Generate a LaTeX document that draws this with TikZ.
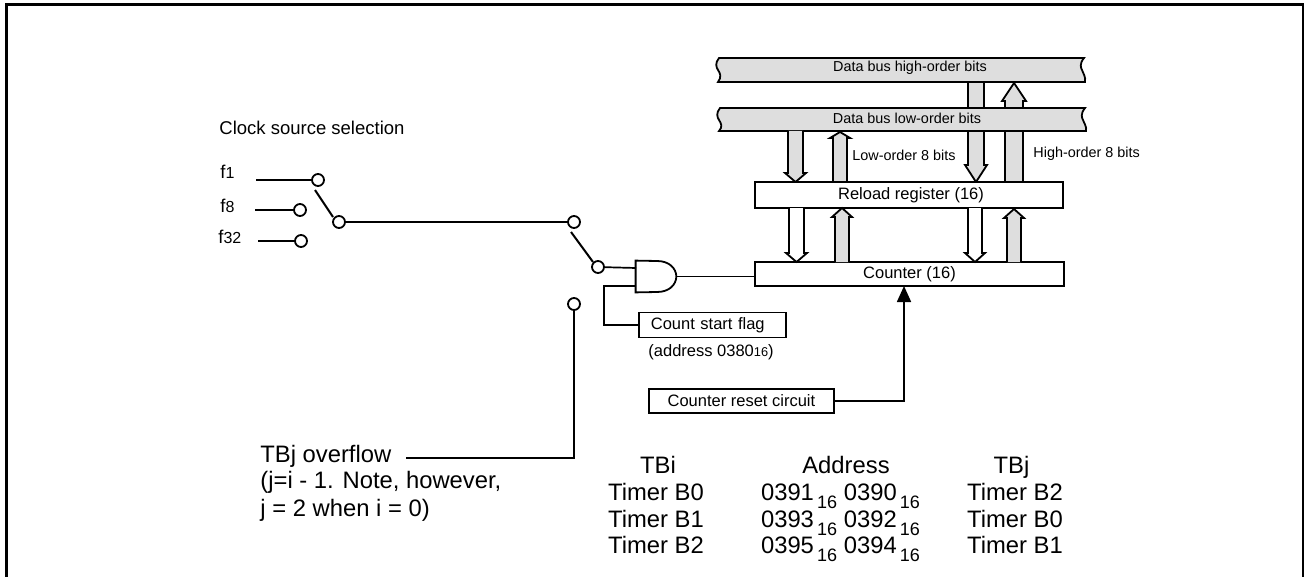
\documentclass[tikz,border=0pt]{standalone}
\usepackage{fontspec}
\setmainfont{Liberation Sans}
\usetikzlibrary{arrows.meta}

\definecolor{busgray}{HTML}{DEDEDE}
\newcommand{\lowsub}[1]{\kern1.6pt\raisebox{-0.36em}{\fontsize{9}{9}\selectfont #1}}
\newcommand{\insub}[1]{{\fontsize{6.4}{8}\selectfont #1}}
\newcommand{\fsub}[1]{{\fontsize{8}{8}\selectfont #1}}
\tikzset{
  regbox/.style={
    rectangle, draw=black, fill=white, line width=0.9pt,
    inner sep=0pt, align=center, font=\fontsize{8.25}{10}\selectfont
  },
  flagbox/.style={
    rectangle, draw=black, fill=white, line width=0.9pt,
    inner ysep=0pt, inner xsep=6pt, text width=61.5pt, align=left,
    font=\fontsize{8.25}{10}\selectfont
  },
  hole/.style={
    circle, draw=black, fill=white, line width=0.9pt,
    minimum size=6pt, inner sep=0pt
  },
  wire/.style={line width=0.85pt, black},
  blade/.style={line width=1pt, black},
  buspath/.style={draw=black, fill=busgray, line width=0.9pt},
  tinytext/.style={font=\fontsize{7.2}{9}\selectfont, inner sep=0pt},
  smalltext/.style={font=\fontsize{8.25}{10}\selectfont, inner sep=0pt},
  clocktext/.style={font=\fontsize{9.25}{11}\selectfont, inner sep=0pt},
  bigtext/.style={font=\fontsize{11.9}{13.5}\selectfont, inner sep=0pt},
  tablecol/.style={
    font=\fontsize{11.9}{13.5}\selectfont, inner sep=0pt, align=center
  }
}
% draws one wide bus arrow: left, right, start y, y of the head, tip y, fill
\newcommand{\busarrow}[6]{
  \pgfmathsetmacro{\xmid}{(#1+#2)/2}
  \fill[#6] (#1,#3) -- (#1,#4) -- ({#1-3},#4) -- (\xmid,#5)
    -- ({#2+3},#4) -- (#2,#4) -- (#2,#3) -- cycle;
  \draw[line width=0.9pt, line join=miter] (#1,#3) -- (#1,#4) -- ({#1-3},#4)
    -- (\xmid,#5) -- ({#2+3},#4) -- (#2,#4) -- (#2,#3);
}

\begin{document}
\begin{tikzpicture}[x=0.5pt, y=-0.5pt]

  \useasboundingbox (0,0) rectangle (1304,577);

  % Outer frame, open at the bottom
  \draw[line width=1.5pt] (6.5,577) -- (6.5,4.5) -- (1303,4.5) -- (1303,577);

  % Arrows that pass behind the low-order bus
  \busarrow{968}{984}{82}{165}{182}{busgray}
  \busarrow{1005}{1023}{182}{101}{83}{busgray}

  % Data buses
  \path[buspath] (719,58) -- (1084,58)
    .. controls (1079,64) and (1081,68) .. (1082,70)
    .. controls (1083,73) and (1086,77) .. (1085,82)
    -- (718,82)
    .. controls (722,77) and (720,73) .. (718,70)
    .. controls (716,67) and (715,63) .. (719,58) -- cycle;
  \node[tinytext] (bushigh) at (910,68) {Data bus high-order bits};
  \path[buspath] (720,108) -- (1085,108)
    .. controls (1080,114) and (1082,118) .. (1083,120)
    .. controls (1084,123) and (1087,127) .. (1086,131)
    -- (719,131)
    .. controls (723,127) and (721,123) .. (719,120)
    .. controls (717,117) and (716,113) .. (720,108) -- cycle;
  \node[tinytext] (buslow) at (907,118) {Data bus low-order bits};

  % Arrows from the low-order bus to the reload register
  \busarrow{788}{803}{131}{173}{182}{busgray}
  \busarrow{833}{847}{182}{138}{132}{busgray}

  % Registers
  \node[regbox, minimum width=154pt, minimum height=13pt] (reload) at (909,195)
    {\hspace{2pt}Reload register (16)};
  \node[regbox, minimum width=154.5pt, minimum height=12pt] (counter) at (909.5,274)
    {Counter (16)};

  % Arrows between reload register and counter
  \busarrow{789}{804}{208}{253}{262}{white}
  \busarrow{835}{849}{262}{217}{208}{busgray}
  \busarrow{968}{982}{208}{253}{262}{white}
  \busarrow{1007}{1021}{262}{218}{209}{busgray}

  \node[tinytext, anchor=base west] (lowbits) at (852,161) {Low-order 8 bits};
  \node[tinytext, anchor=base west] (highbits) at (1033,158) {High-order 8 bits};

  % Clock source selection
  \node[clocktext, anchor=base west] (clocksel) at (219,135) {Clock source selection};
  \node[clocktext, anchor=base west] (fone) at (220,179) {f\fsub{1}};
  \node[clocktext, anchor=base west] (feight) at (220,213) {f\fsub{8}};
  \node[clocktext, anchor=base west] (fthirtytwo) at (218,243) {f\fsub{32}};

  \coordinate (fonestart) at (256,180);
  \coordinate (feightstart) at (255,210);
  \coordinate (fthirtystart) at (258,241);
  \node[hole] (holeone) at (318,180) {};
  \node[hole] (holeeight) at (300,210) {};
  \node[hole] (holethirty) at (301,241) {};
  \node[hole] (selout) at (339,222) {};
  \node[hole] (srcin) at (574,222) {};
  \node[hole] (srcout) at (598,267) {};
  \node[hole] (srcover) at (574,304) {};

  \draw[wire] (fonestart) -- (holeone);
  \draw[wire] (feightstart) -- (holeeight);
  \draw[wire] (fthirtystart) -- (holethirty);
  \draw[wire] (selout) -- (srcin);

  % Switch blades
  \coordinate (bladeAtop) at (315,190);
  \coordinate (bladeAend) at (333,217);
  \coordinate (bladeBtop) at (571,232);
  \coordinate (bladeBend) at (593,262);
  \draw[blade] (bladeAtop) -- (bladeAend);
  \draw[blade] (bladeBtop) -- (bladeBend);

  % AND gate
  \node[minimum width=20pt, minimum height=15.5pt, inner sep=0pt] (andgate) at (656,276.5) {};
  \draw[line width=0.9pt] (andgate.south west) -- (andgate.north west) -- (657,261)
    .. controls (669,261) and (676,268) .. (andgate.east)
    .. controls (676,285) and (669,292) .. (657,292) -- cycle;
  \coordinate (andtop) at (636,268);
  \coordinate (andbot) at (636,286);
  \draw[wire] (srcout) -- (andtop);
  \draw[wire] (andgate.east) -- (andgate.east -| counter.west);

  % Count start flag
  \node[flagbox, minimum height=12.5pt, anchor=west] (startflag) at (638,325)
    {Count start flag};
  \node[smalltext, anchor=base west] (flagaddr) at (648,356) {(address 0380\insub{16})};
  \draw[wire] (andbot) -- (604,286) |- (startflag.west);

  % Counter reset
  \node[regbox, minimum width=92.5pt, minimum height=12pt, anchor=west] (resetbox) at (648,401)
    {Counter reset circuit};
  \coordinate (resetend) at (904,286);
  \draw[wire, -{Triangle[length=8pt, width=7pt]}] (resetbox.east) -| (resetend);

  % TBj overflow
  \node[bigtext, anchor=base west] (tbjover) at (260,462) {TBj overflow};
  \node[bigtext, anchor=base west] (tbjnoteA) at (260,488) {(j=i - 1. Note, however,};
  \node[bigtext, anchor=base west] (tbjnoteB) at (260,516) {j = 2 when i = 0)};
  \coordinate (overend) at (406,458);
  \draw[wire] (srcover) |- (overend);

  % Timer table
  \foreach \nm/\xh/\xc/\ya/\yb/\yc/\yd in {
      tbi/658/656/{TBi}/{Timer B0}/{Timer B1}/{Timer B2},
      addr/846/840.5/{Address}/{0391\lowsub{16} 0390\lowsub{16}}/{0393\lowsub{16} 0392\lowsub{16}}/{0395\lowsub{16} 0394\lowsub{16}},
      tbj/1011.5/1015/{TBj}/{Timer B2}/{Timer B0}/{Timer B1}}
  {
    \node[tablecol, anchor=base] (\nm head) at (\xh,473) {\ya};
    \node[tablecol, anchor=base] (\nm one) at (\xc,500) {\yb};
    \node[tablecol, anchor=base] (\nm two) at (\xc,527) {\yc};
    \node[tablecol, anchor=base] (\nm three) at (\xc,553) {\yd};
  }

\end{tikzpicture}
\end{document}
